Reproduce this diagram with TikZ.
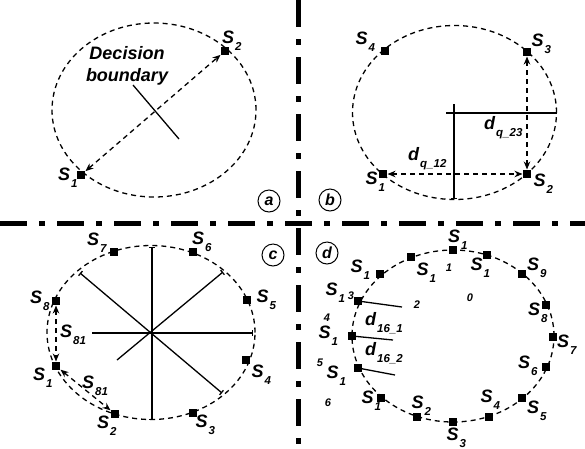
\documentclass[tikz,border=0pt]{standalone}
\usepackage{fontspec}
\setmainfont{Liberation Sans}
\usetikzlibrary{arrows.meta}
\newcommand{\lsub}[1]{\kern1pt\raisebox{-7pt}{\fontsize{11.5}{11.5}\selectfont #1}}

\begin{document}
\begin{tikzpicture}[
  x=1pt, y=-1pt,
  >={Stealth[length=8pt,width=6.5pt]},
  ell/.style={dash pattern=on 5pt off 4pt, line width=1.3pt},
  sq/.style={fill, minimum size=8pt, inner sep=0pt, outer sep=0.5pt},
  lab/.style={anchor=base west, inner sep=0pt, font=\fontsize{18}{18}\selectfont\bfseries\itshape},
  num/.style={inner sep=0pt, font=\fontsize{11}{11}\selectfont\bfseries\itshape},
  tag/.style={draw, circle, line width=1pt, minimum size=22pt, inner sep=0pt, font=\fontsize{16}{16}\selectfont\bfseries\itshape},
  arr/.style={<->, dash pattern=on 5pt off 4pt, line width=1.3pt},
  bnd/.style={line width=1.3pt},
  bb/.style={bnd, arrows={Bar[width=6pt]-Bar[width=6pt]}},
  eb/.style={bnd, arrows={-Bar[width=6pt]}},
  sep/.style={line width=5pt, dash pattern=on 27pt off 12pt on 6pt off 12pt}
]
\useasboundingbox (0,0) rectangle (585,448);

% quadrant separators
\coordinate (h0) at (0,223);
\coordinate (h1) at (585,223);
\coordinate (v0) at (298,0);
\coordinate (v1) at (298,448);
\draw[sep] (h0) -- (h1);
\draw[sep] (v0) -- (v1);

% (a) two signals
\draw[ell] (154,110) ellipse [x radius=102pt, y radius=87pt];
\node[sq] (a1) at (81,175) {};
\node[sq] (a2) at (225,51) {};
\draw[arr] (a1) -- (a2);
\node[lab] (a1l) at (58,180) {S\lsub{1}};
\node[lab] (a2l) at (222,43.5) {S\lsub{2}};
\coordinate (db1) at (133,85);
\coordinate (db2) at (179,139);
\draw[bnd] (db1) -- (db2);
\node[align=center, inner sep=0pt, font=\fontsize{18}{22}\selectfont\bfseries\itshape] (dbtxt) at (127,66) {Decision\\boundary};
\node[tag] (taga) at (269,201) {a};

% (b) four signals
\draw[ell] (454.5,112.5) ellipse [x radius=102pt, y radius=87pt];
\node[sq] (b1) at (383,174) {};
\node[sq] (b2) at (527,174) {};
\node[sq] (b3) at (527,52) {};
\node[sq] (b4) at (385,51) {};
\draw[arr] (b1) -- (b2);
\draw[arr] (b3) -- (b2);
\coordinate (bv0) at (454,104);
\coordinate (bv1) at (454,199);
\coordinate (bh0) at (446,113);
\coordinate (bh1) at (557,113);
\draw[eb] (bv0) -- (bv1);
\draw[bnd] (bh0) -- (bh1);
\node[lab] (b1l) at (365.5,184) {S\lsub{1}};
\node[lab] (b2l) at (533.5,186) {S\lsub{2}};
\node[lab] (b3l) at (531.5,46) {S\lsub{3}};
\node[lab] (b4l) at (355.5,44) {S\lsub{4}};
\node[lab] (dq12) at (408,160) {d\lsub{q\_12}};
\node[lab] (dq23) at (484,129) {d\lsub{q\_23}};
\node[tag] (tagb) at (330,200) {b};

% (c) eight signals
\draw[ell] (151,332.5) ellipse [x radius=104pt, y radius=87pt];
\node[sq] (c1) at (56,366) {};
\node[sq] (c2) at (115,414) {};
\node[sq] (c3) at (193,413) {};
\node[sq] (c4) at (246,360) {};
\node[sq] (c5) at (247,300) {};
\node[sq] (c6) at (193,252) {};
\node[sq] (c7) at (114,252) {};
\node[sq] (c8) at (56,301) {};
\draw[arr] (c8) -- (c1);
\draw[arr] (c1) -- (c2);
\coordinate (cv0) at (152,247);
\coordinate (cv1) at (152,420);
\coordinate (ch0) at (92,333);
\coordinate (ch1) at (253,333);
\coordinate (cd0) at (80,273);
\coordinate (cd1) at (222,393);
\coordinate (ce0) at (117,360);
\coordinate (ce1) at (223,272);
\draw[bb] (cv0) -- (cv1);
\draw[eb] (ch0) -- (ch1);
\draw[bb] (cd0) -- (cd1);
\draw[eb] (ce0) -- (ce1);
\node[lab] (c1l) at (33,380) {S\lsub{1}};
\node[lab] (c2l) at (97,428) {S\lsub{2}};
\node[lab] (c3l) at (195.5,427) {S\lsub{3}};
\node[lab] (c4l) at (251.5,377) {S\lsub{4}};
\node[lab] (c5l) at (256.5,302) {S\lsub{5}};
\node[lab] (c6l) at (192,244) {S\lsub{6}};
\node[lab] (c7l) at (87,245) {S\lsub{7}};
\node[lab] (c8l) at (30,303) {S\lsub{8}};
\node[lab] (s81a) at (60,337) {S\lsub{81}};
\node[lab] (s81b) at (82,388) {S\lsub{81}};
\node[tag] (tagc) at (273,255) {c};

% (d) sixteen signals
\draw[ell] (453,336) ellipse [x radius=101pt, y radius=86pt];
\foreach \x/\y [count=\i] in {453/250, 487/255, 522/274, 546/305, 553/337, 546/367,
    522/398, 489/417, 453/422, 417/417, 381/398, 358/368, 352/336, 358/301, 380/274, 411/257}
  \node[sq] (d\i) at (\x,\y) {};
\coordinate (dl1) at (402,307);
\coordinate (dl2) at (393,340);
\coordinate (dl3) at (395,375);
\draw[bnd] (d14.center) -- (dl1);
\draw[bnd] (d13.center) -- (dl2);
\draw[bnd] (d12.center) -- (dl3);
\node[lab] (d1l) at (448,242) {S\lsub{1}};
\node[lab] (d15l) at (350.5,272) {S\lsub{1}};
\node[lab] (d16l) at (416.5,275) {S\lsub{1}};
\node[lab] (d2l) at (470.5,270) {S\lsub{1}};
\node[lab] (d3l) at (527,270) {S\lsub{9}};
\node[lab] (d4l) at (528,315) {S\lsub{8}};
\node[lab] (d5l) at (557,347) {S\lsub{7}};
\node[lab] (d6l) at (518,368) {S\lsub{6}};
\node[lab] (d7l) at (527,413) {S\lsub{5}};
\node[lab] (d8l) at (480.5,402) {S\lsub{4}};
\node[lab] (d9l) at (446.5,440) {S\lsub{3}};
\node[lab] (d10l) at (411.5,408) {S\lsub{2}};
\node[lab] (d11l) at (361.5,403) {S\lsub{1}};
\node[lab] (d12l) at (326.5,378) {S\lsub{1}};
\node[lab] (d13l) at (318.5,338) {S\lsub{1}};
\node[lab] (d14l) at (325.5,295) {S\lsub{1}};
\node[num] (n1) at (449,268) {1};
\node[num] (n0) at (470,298) {0};
\node[num] (n3) at (351,296) {3};
\node[num] (n2) at (417,305) {2};
\node[num] (n4) at (327,318) {4};
\node[num] (n5) at (320,363) {5};
\node[num] (n6) at (328,403) {6};
\node[lab] (d161) at (365,325) {d\lsub{16\_1}};
\node[lab] (d162) at (365,355) {d\lsub{16\_2}};
\node[tag] (tagd) at (327,253) {d};
\end{tikzpicture}
\end{document}
